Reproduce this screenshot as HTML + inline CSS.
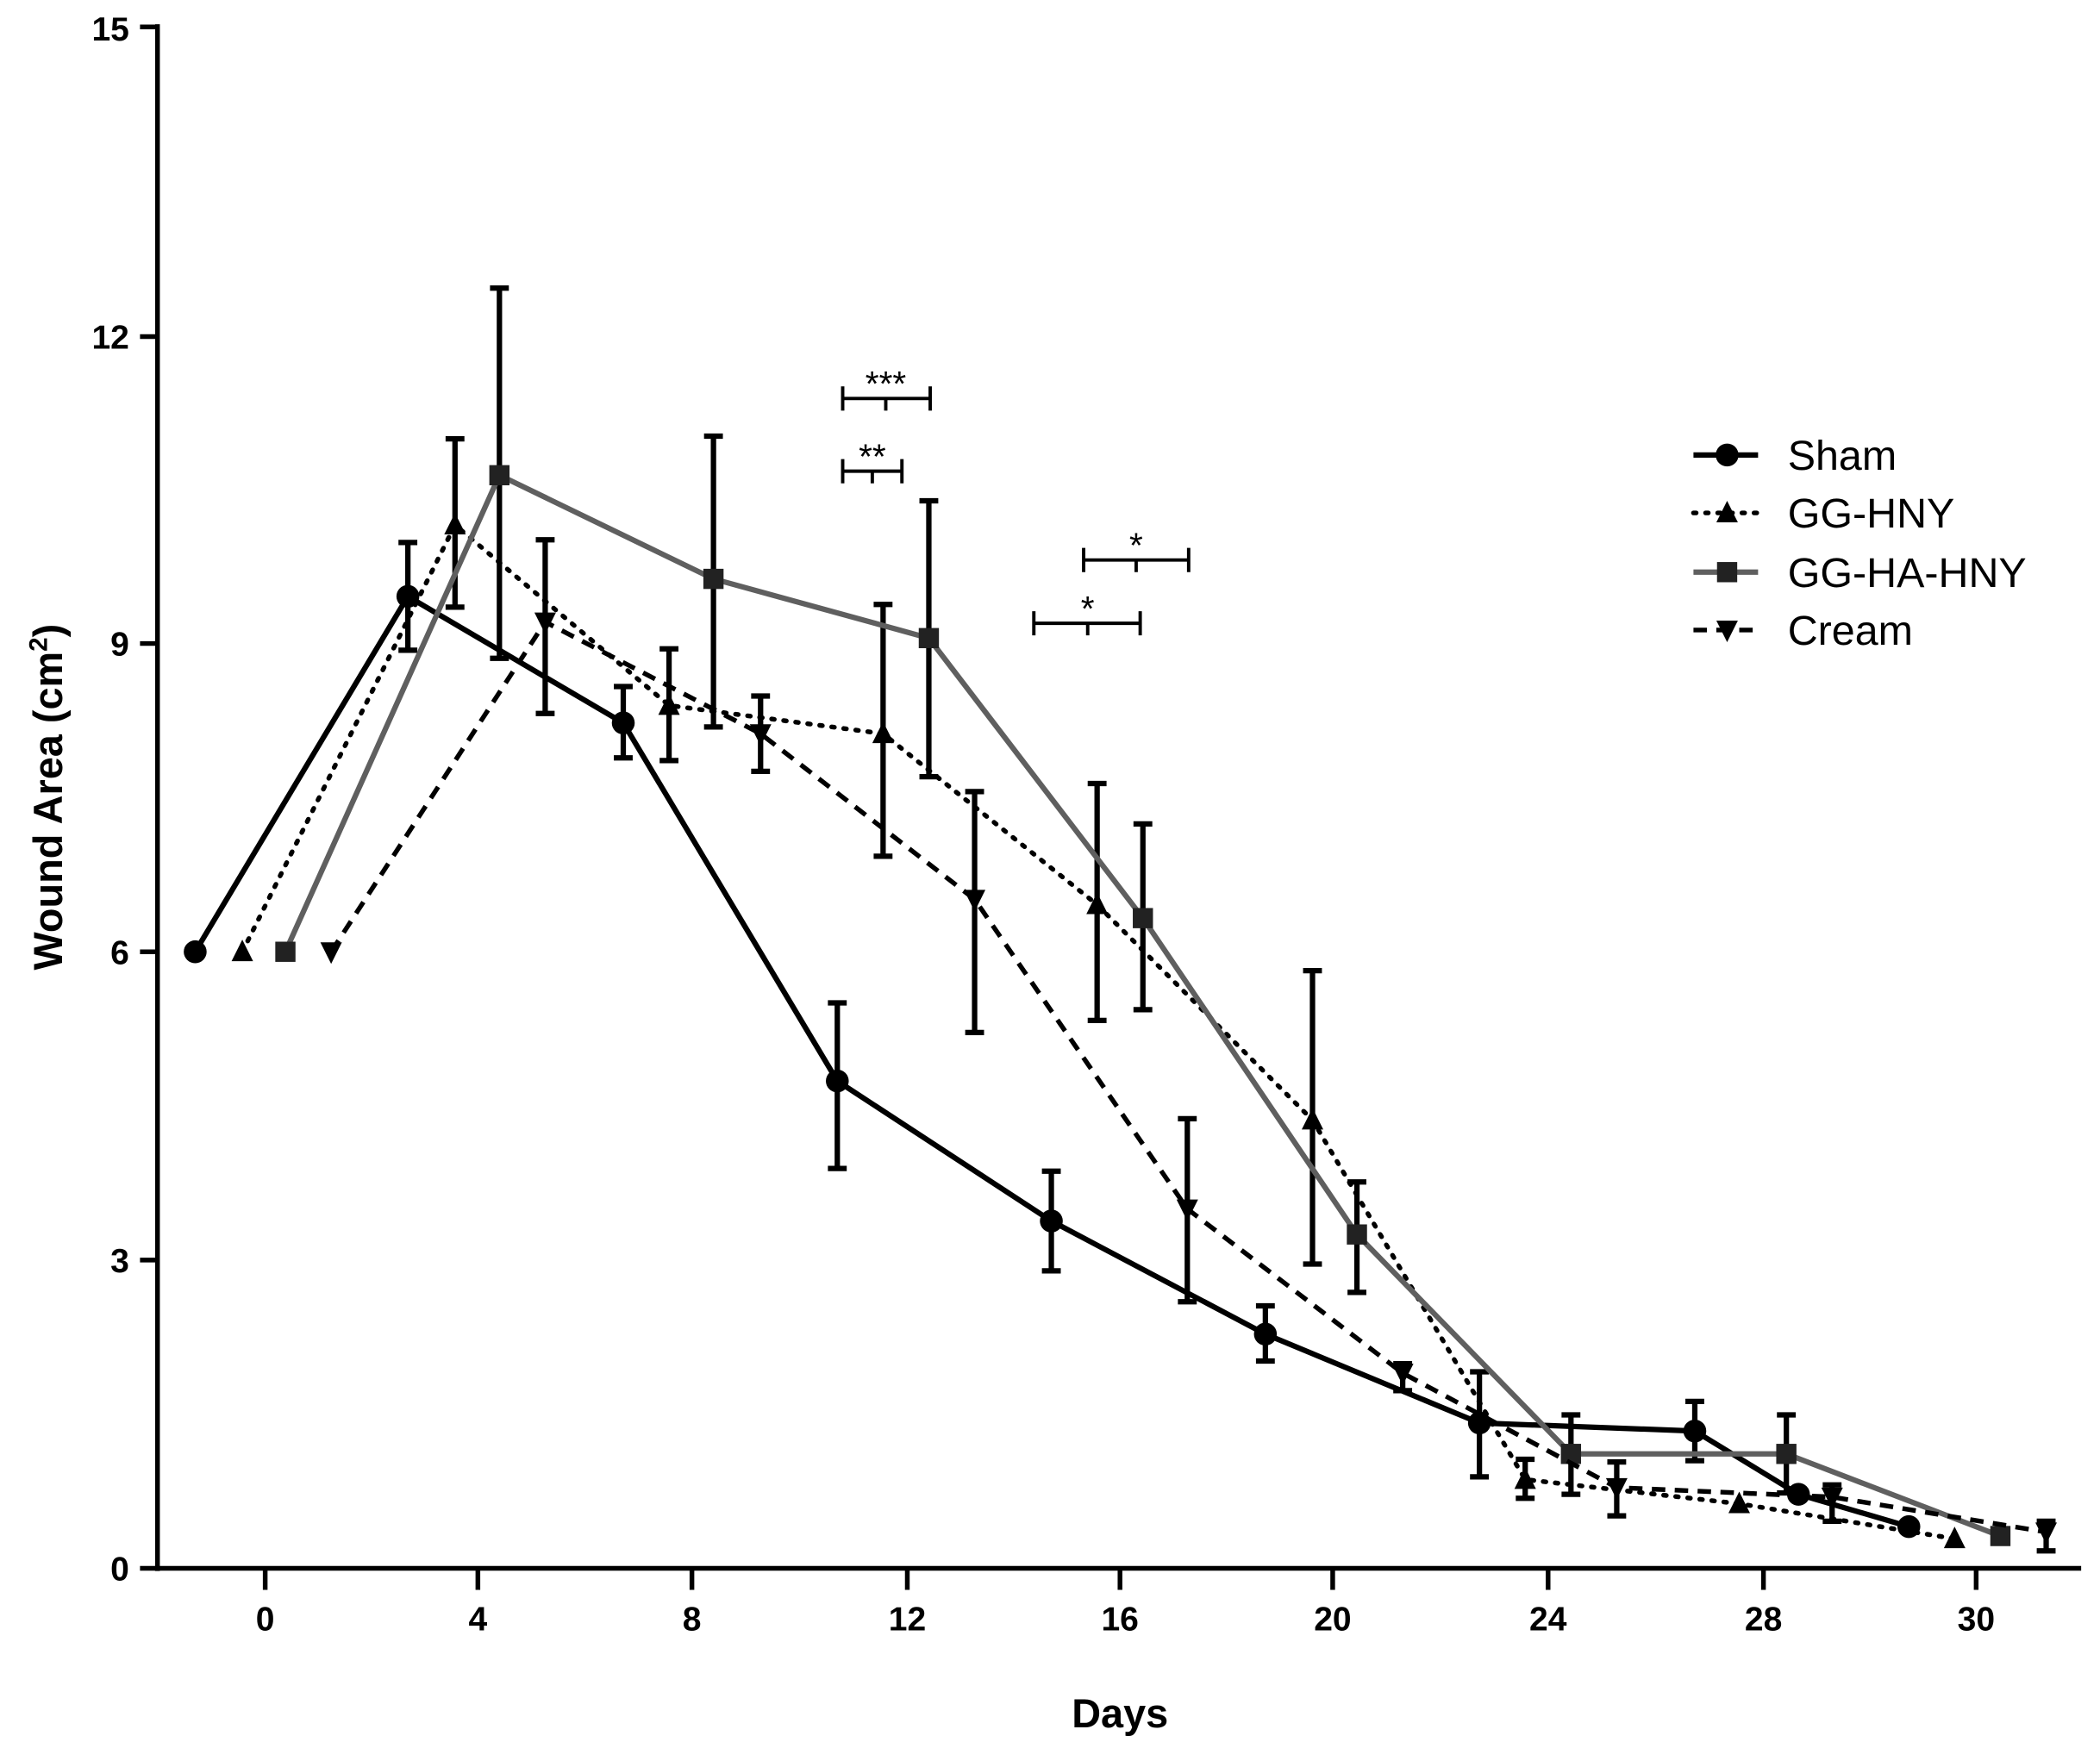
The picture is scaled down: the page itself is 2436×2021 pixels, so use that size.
<!DOCTYPE html>
<html><head><meta charset="utf-8"><style>html,body{margin:0;padding:0;background:#fff}svg{display:block}</style></head><body>
<svg width="2436" height="2021" viewBox="0 0 1560 1294" preserveAspectRatio="none" xmlns="http://www.w3.org/2000/svg" font-family="Liberation Sans, sans-serif">
<defs>
<marker id="c" viewBox="-9 -9 18 18" markerWidth="18" markerHeight="18" markerUnits="userSpaceOnUse"><circle r="8.5" fill="#000"/></marker>
<marker id="tu" viewBox="-9 -9 18 18" markerWidth="18" markerHeight="18" markerUnits="userSpaceOnUse"><path d="M0,-9 L8,7 L-8,7Z" fill="#000"/></marker>
<marker id="s" viewBox="-9 -9 18 18" markerWidth="18" markerHeight="18" markerUnits="userSpaceOnUse"><rect x="-7.5" y="-7.5" width="15" height="15" fill="#222"/></marker>
<marker id="td" viewBox="-9 -9 18 18" markerWidth="18" markerHeight="18" markerUnits="userSpaceOnUse"><path d="M0,9 L8,-7 L-8,-7Z" fill="#000"/></marker>
</defs>
<g stroke="#000" stroke-width="3.5" fill="none">
<line x1="117" y1="18" x2="117" y2="1167"/>
<line x1="115" y1="1165" x2="1546" y2="1165"/>
<line x1="104" y1="20" x2="117" y2="20"/><line x1="104" y1="250" x2="117" y2="250"/><line x1="104" y1="478" x2="117" y2="478"/><line x1="104" y1="707" x2="117" y2="707"/><line x1="104" y1="936" x2="117" y2="936"/><line x1="104" y1="1165" x2="117" y2="1165"/>
<line x1="197" y1="1165" x2="197" y2="1181"/><line x1="355" y1="1165" x2="355" y2="1181"/><line x1="514" y1="1165" x2="514" y2="1181"/><line x1="674" y1="1165" x2="674" y2="1181"/><line x1="832" y1="1165" x2="832" y2="1181"/><line x1="990" y1="1165" x2="990" y2="1181"/><line x1="1150" y1="1165" x2="1150" y2="1181"/><line x1="1310" y1="1165" x2="1310" y2="1181"/><line x1="1468" y1="1165" x2="1468" y2="1181"/>
</g>
<g font-size="25" font-weight="bold" text-anchor="end">
<text x="96" y="30">15</text><text x="96" y="259">12</text><text x="96" y="487">9</text><text x="96" y="716">6</text><text x="96" y="945">3</text><text x="96" y="1174">0</text>
</g>
<g font-size="25" font-weight="bold" text-anchor="middle">
<text x="197" y="1211">0</text><text x="355" y="1211">4</text><text x="514" y="1211">8</text><text x="674" y="1211">12</text><text x="832" y="1211">16</text><text x="990" y="1211">20</text><text x="1150" y="1211">24</text><text x="1310" y="1211">28</text><text x="1468" y="1211">30</text>
</g>
<text x="832" y="1283" font-size="30" font-weight="bold" text-anchor="middle">Days</text>
<text transform="translate(46,592) rotate(-90)" font-size="30" font-weight="bold" text-anchor="middle">Wound Area (cm<tspan font-size="19" dy="-11">2</tspan><tspan dy="11">)</tspan></text>
<g stroke="#000" stroke-width="4">
<path d="M303,403V483M296,403H310M296,483H310 M463,510V563M456,510H470M456,563H470 M622,745V868M615,745H629M615,868H629 M781,870V944M774,870H788M774,944H788 M940,970V1011M933,970H947M933,1011H947 M1099,1019V1097M1092,1019H1106M1092,1097H1106 M1259,1041V1085M1252,1041H1266M1252,1085H1266"/>
<path d="M338,326V451M331,326H345M331,451H345 M497,482V565M490,482H504M490,565H504 M656,449V636M649,449H663M649,636H663 M815,582V758M808,582H822M808,758H822 M975,721V939M968,721H982M968,939H982 M1133,1084V1113M1126,1084H1140M1126,1113H1140"/>
<path d="M371,214V489M364,214H378M364,489H378 M530,324V540M523,324H537M523,540H537 M690,372V577M683,372H697M683,577H697 M849,612V750M842,612H856M842,750H856 M1008,878V960M1001,878H1015M1001,960H1015 M1167,1051V1110M1160,1051H1174M1160,1110H1174 M1327,1051V1109M1320,1051H1334M1320,1109H1334"/>
<path d="M405,401V530M398,401H412M398,530H412 M565,517V573M558,517H572M558,573H572 M724,588V767M717,588H731M717,767H731 M882,831V967M875,831H889M875,967H889 M1042,1013V1033M1035,1013H1049M1035,1033H1049 M1201,1086V1126M1194,1086H1208M1194,1126H1208 M1361,1103V1130M1354,1103H1368M1354,1130H1368 M1520,1130V1152M1513,1130H1527M1513,1152H1527"/>
</g>
<polyline fill="none" stroke="#000" stroke-width="4" points="145,707 303,443 463,537 622,803 781,907 940,991 1099,1057 1259,1063 1336,1110 1418,1134" marker-start="url(#c)" marker-mid="url(#c)" marker-end="url(#c)"/>
<polyline fill="none" stroke="#000" stroke-width="3.5" stroke-dasharray="2,7" stroke-linecap="round" points="180,707 338,390 497,524 656,545 815,672 975,832 1133,1099 1292,1117 1452,1143" marker-start="url(#tu)" marker-mid="url(#tu)" marker-end="url(#tu)"/>
<polyline fill="none" stroke="#5f5f5f" stroke-width="4" points="212,707 371,353 530,430 690,474 849,682 1008,917 1167,1080 1327,1080 1486,1141" marker-start="url(#s)" marker-mid="url(#s)" marker-end="url(#s)"/>
<polyline fill="none" stroke="#000" stroke-width="3.5" stroke-dasharray="10,7" points="246,707 405,462 565,545 724,668 882,898 1042,1020 1201,1105 1361,1112 1520,1138" marker-start="url(#td)" marker-mid="url(#td)" marker-end="url(#td)"/>
<g stroke="#000" stroke-width="2.5">
<path d="M626,296H691M626,287V305M691,287V305M658,296V305"/>
<path d="M626,350H670M626,341V359M670,341V359M648,350V359"/>
<path d="M805,416H883M805,407V425M883,407V425M844,416V425"/>
<path d="M768,463H847M768,454V472M847,454V472M808,463V472"/>
</g>
<g font-size="26" text-anchor="middle">
<text x="658" y="294">***</text><text x="648" y="348">**</text><text x="844" y="414">*</text><text x="808" y="461">*</text>
</g>
<line x1="1258" y1="338" x2="1306" y2="338" stroke="#000" stroke-width="4"/><circle cx="1283" cy="338" r="8.5"/>
<line x1="1258" y1="381" x2="1306" y2="381" stroke="#000" stroke-width="3.5" stroke-dasharray="2,7" stroke-linecap="round"/><path d="M1283,372 L1291,388 L1275,388Z"/>
<line x1="1258" y1="425" x2="1306" y2="425" stroke="#5f5f5f" stroke-width="4"/><rect x="1275.5" y="417.5" width="15" height="15" fill="#222"/>
<line x1="1258" y1="468" x2="1306" y2="468" stroke="#000" stroke-width="3.5" stroke-dasharray="10,7"/><path d="M1283,477 L1291,461 L1275,461Z"/>
<g font-size="31"><text x="1328" y="349">Sham</text><text x="1328" y="392">GG-HNY</text><text x="1328" y="436">GG-HA-HNY</text><text x="1328" y="479">Cream</text></g>
</svg>
</body></html>
